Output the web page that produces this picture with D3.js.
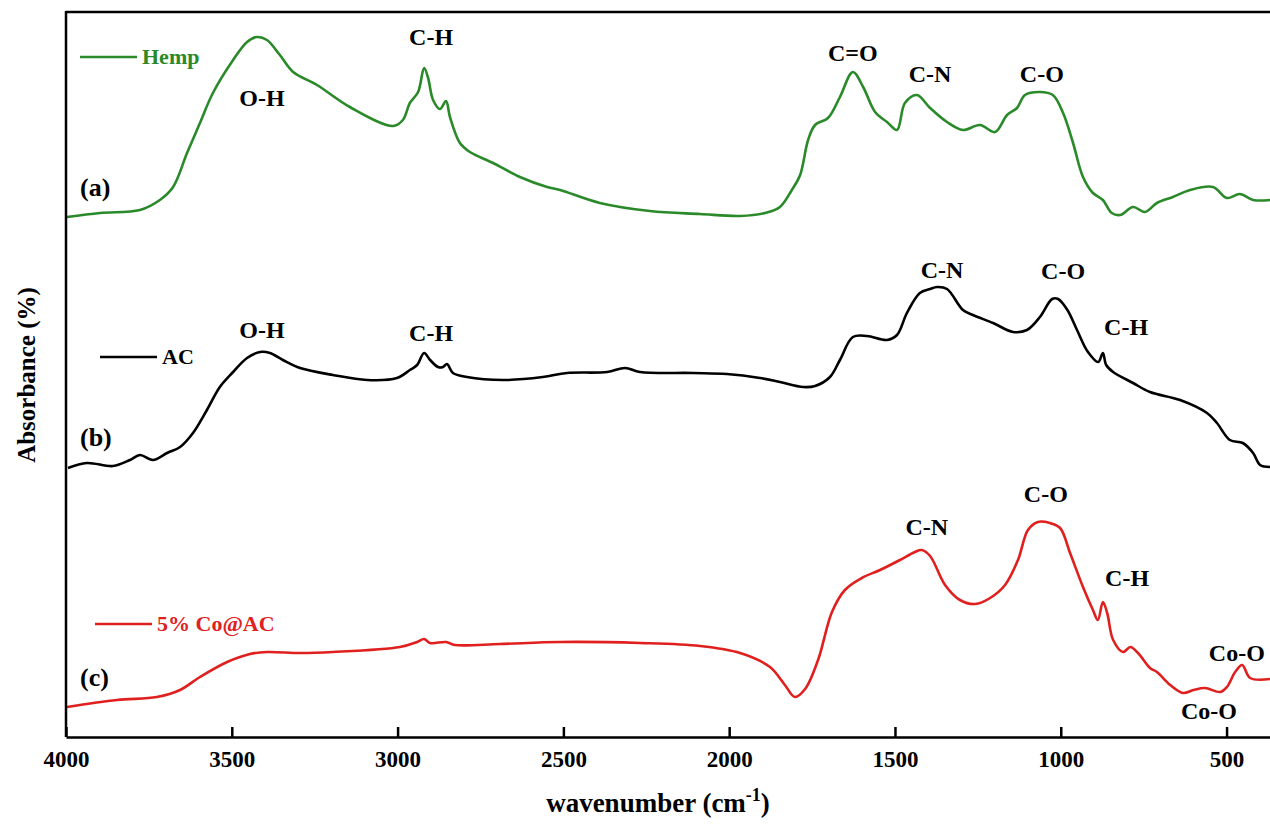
<!DOCTYPE html>
<html>
<head>
<meta charset="utf-8">
<script src="https://cdn.jsdelivr.net/npm/d3@7"></script>
<style>
  body { margin: 0; background: #fff; }
  svg { display: block; }
  text { font-family: "Liberation Serif", "Times New Roman", serif; font-weight: bold; }
</style>
</head>
<body>
<svg id="ftir" width="1270" height="825"></svg>
<script>
// FTIR spectra, [wavenumber (cm-1), absorbance (a.u., stacked)]
const hempSpectrum = [
  [3997, 10.40], [3897, 10.48], [3777, 10.54], [3717, 10.74], [3677, 11.00], [3635, 11.68],
  [3596, 12.28], [3557, 12.88], [3496, 13.54], [3454, 13.90], [3424, 14.00], [3394, 13.94],
  [3355, 13.64], [3315, 13.30], [3243, 13.04], [3144, 12.60], [3014, 12.22], [2984, 12.34],
  [2963, 12.68], [2938, 12.90], [2920, 13.38], [2908, 13.18], [2893, 12.74], [2872, 12.56],
  [2854, 12.72], [2842, 12.40], [2812, 11.88], [2782, 11.70], [2712, 11.48], [2631, 11.20],
  [2549, 11.00], [2510, 10.94], [2390, 10.68], [2239, 10.52], [2088, 10.46], [1967, 10.42],
  [1892, 10.48], [1847, 10.60], [1811, 10.94], [1786, 11.24], [1762, 11.94], [1741, 12.24],
  [1702, 12.38], [1666, 12.80], [1627, 13.30], [1596, 13.00], [1560, 12.50], [1524, 12.30],
  [1494, 12.14], [1470, 12.68], [1434, 12.84], [1394, 12.58], [1343, 12.30], [1295, 12.14],
  [1244, 12.24], [1198, 12.10], [1162, 12.44], [1132, 12.58], [1108, 12.84], [1063, 12.90],
  [1024, 12.84], [993, 12.48], [963, 11.88], [933, 11.20], [903, 10.88], [873, 10.74],
  [846, 10.48], [821, 10.44], [782, 10.60], [746, 10.50], [710, 10.68], [662, 10.80],
  [610, 10.94], [541, 11.00], [499, 10.78], [460, 10.86], [420, 10.74], [369, 10.74]
];

const acSpectrum = [
  [3994, 5.38], [3937, 5.48], [3858, 5.42], [3807, 5.54], [3777, 5.64], [3738, 5.54],
  [3695, 5.68], [3656, 5.80], [3617, 6.08], [3575, 6.54], [3536, 7.00], [3496, 7.30],
  [3454, 7.58], [3415, 7.70], [3385, 7.68], [3346, 7.54], [3294, 7.38], [3195, 7.24],
  [3092, 7.14], [3002, 7.18], [2963, 7.34], [2941, 7.44], [2920, 7.68], [2902, 7.54],
  [2878, 7.40], [2863, 7.40], [2851, 7.46], [2833, 7.28], [2791, 7.20], [2682, 7.14],
  [2562, 7.20], [2489, 7.28], [2368, 7.30], [2314, 7.38], [2269, 7.30], [2109, 7.28],
  [2007, 7.26], [1907, 7.18], [1847, 7.10], [1777, 7.00], [1741, 7.02], [1696, 7.20],
  [1666, 7.54], [1627, 8.00], [1584, 8.02], [1524, 7.94], [1494, 8.04], [1464, 8.48],
  [1425, 8.88], [1394, 8.96], [1373, 9.00], [1343, 8.96], [1295, 8.54], [1265, 8.44],
  [1204, 8.28], [1144, 8.10], [1102, 8.14], [1063, 8.40], [1026, 8.76], [1008, 8.76],
  [980, 8.54], [951, 8.14], [918, 7.70], [887, 7.50], [873, 7.68], [863, 7.44],
  [842, 7.30], [782, 7.08], [731, 6.90], [640, 6.74], [559, 6.48], [529, 6.28],
  [490, 5.94], [451, 5.88], [420, 5.68], [399, 5.44], [369, 5.40]
];

const coSpectrum = [
  [3997, 0.60], [3846, 0.74], [3726, 0.80], [3656, 0.94], [3596, 1.20], [3514, 1.50],
  [3445, 1.66], [3394, 1.70], [3294, 1.68], [3195, 1.70], [2993, 1.80], [2941, 1.90],
  [2920, 1.96], [2902, 1.88], [2854, 1.90], [2827, 1.84], [2691, 1.86], [2510, 1.90],
  [2269, 1.88], [2088, 1.82], [1967, 1.68], [1877, 1.40], [1832, 1.04], [1802, 0.80],
  [1771, 0.96], [1732, 1.54], [1690, 2.50], [1651, 2.94], [1600, 3.18], [1545, 3.34],
  [1485, 3.54], [1440, 3.70], [1419, 3.74], [1394, 3.62], [1349, 3.04], [1304, 2.74],
  [1258, 2.66], [1213, 2.78], [1168, 3.04], [1129, 3.54], [1099, 4.14], [1069, 4.30],
  [1033, 4.28], [1002, 4.18], [972, 3.68], [933, 3.00], [903, 2.54], [888, 2.34],
  [873, 2.70], [860, 2.48], [842, 1.94], [812, 1.70], [790, 1.80], [767, 1.68],
  [731, 1.38], [710, 1.30], [670, 1.04], [631, 0.88], [600, 0.94], [565, 0.98],
  [519, 0.90], [499, 1.00], [474, 1.30], [453, 1.44], [429, 1.18], [369, 1.16]
];

const seriesNames = ["Hemp", "AC", "5% Co@AC"];
const seriesColors = ["#2a8a2a", "#000000", "#e0201f"];
const seriesTags = ["(a)", "(b)", "(c)"];
const xTicks = [4000, 3500, 3000, 2500, 2000, 1500, 1000, 500];

// Band assignments: [label, wavenumber, absorbance]
const peakLabels = [
  ["O-H", 3409, 12.78], ["C-H", 2899, 14.0], ["C=O", 1627, 13.68], ["C-N", 1394, 13.26], ["C-O", 1057, 13.26],
  ["O-H", 3409, 8.14], ["C-H", 2899, 8.08], ["C-N", 1358, 9.34], ["C-O", 993, 9.32], ["C-H", 803, 8.20],
  ["C-N", 1404, 4.20], ["C-O", 1045, 4.86], ["C-H", 800, 3.18], ["Co-O", 469, 1.68], ["Co-O", 553, 0.52]
];

const svg = d3.select("#ftir");
const plotLeft = 66, plotTop = 12, plotRight = 1270, plotBottom = 737;

const x = d3.scaleLinear().domain([4000, 369]).range([plotLeft, plotRight]);
const y = d3.scaleLinear().domain([0, 14.5]).range([plotBottom, plotTop]);

const line = d3.line()
  .x(d => x(d[0]))
  .y(d => y(d[1]))
  .curve(d3.curveCatmullRom.alpha(0.5));

// Spectra
[hempSpectrum, acSpectrum, coSpectrum].forEach((s, i) => {
  svg.append("path")
    .datum(s)
    .attr("d", line)
    .attr("fill", "none")
    .attr("stroke", seriesColors[i])
    .attr("stroke-width", 2.6)
    .attr("stroke-linejoin", "round");
});

// Frame: top and left lines
svg.append("line")
  .attr("x1", plotLeft).attr("x2", plotRight).attr("y1", plotTop).attr("y2", plotTop)
  .attr("stroke", "#000").attr("stroke-width", 2.5);
svg.append("line")
  .attr("x1", plotLeft).attr("x2", plotLeft).attr("y1", plotTop - 1).attr("y2", plotBottom)
  .attr("stroke", "#000").attr("stroke-width", 2.5);

// Bottom axis, ticks inside
const xAxis = svg.append("g")
  .attr("transform", `translate(0,${plotBottom})`)
  .call(d3.axisBottom(x).tickValues(xTicks).tickFormat(d3.format("d"))
    .tickSize(-10).tickSizeOuter(0).tickPadding(14));
xAxis.select(".domain").attr("stroke-width", 2.5);
xAxis.selectAll(".tick line").attr("stroke-width", 2.5);
xAxis.selectAll(".tick text")
  .style("font-family", "'Liberation Serif', 'Times New Roman', serif")
  .style("font-weight", "bold")
  .style("font-size", "23px")
  .attr("fill", "#000");

// Axis titles
const xTitle = svg.append("text")
  .attr("x", 658).attr("y", 812)
  .attr("text-anchor", "middle")
  .style("font-size", "27px");
xTitle.append("tspan").text("wavenumber (cm");
xTitle.append("tspan").attr("dy", -11).style("font-size", "18px").text("-1");
xTitle.append("tspan").attr("dy", 11).text(")");

svg.append("text")
  .attr("transform", "translate(35,375) rotate(-90)")
  .attr("text-anchor", "middle")
  .style("font-size", "25px")
  .text("Absorbance (%)");

// Legends and curve tags
const legendPos = [[80, 57], [100, 357], [95, 624]];
const tagPos = [[80, 196], [80, 446], [80, 686]];
seriesNames.forEach((name, i) => {
  const [lx, ly] = legendPos[i];
  svg.append("line")
    .attr("x1", lx).attr("x2", lx + 57).attr("y1", ly).attr("y2", ly)
    .attr("stroke", seriesColors[i]).attr("stroke-width", 2.6);
  svg.append("text")
    .attr("x", lx + 62).attr("y", ly + 7)
    .attr("fill", seriesColors[i])
    .style("font-size", "22px")
    .text(name);
  svg.append("text")
    .attr("x", tagPos[i][0]).attr("y", tagPos[i][1])
    .style("font-size", "26px")
    .text(seriesTags[i]);
});

// Peak labels
svg.selectAll(".peak")
  .data(peakLabels)
  .enter()
  .append("text")
  .attr("class", "peak")
  .attr("x", d => x(d[1]))
  .attr("y", d => y(d[2]))
  .attr("dy", "0.35em")
  .attr("text-anchor", "middle")
  .style("font-size", "24px")
  .text(d => d[0]);
</script>
</body>
</html>
